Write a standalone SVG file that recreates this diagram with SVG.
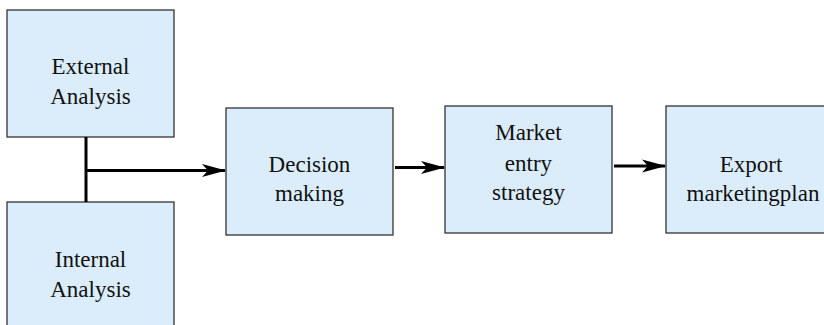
<svg xmlns="http://www.w3.org/2000/svg" width="824" height="325" viewBox="0 0 824 325">
  <style>
    .box { fill: #dbedfb; stroke: #333333; stroke-width: 1.3; }
    .wire { fill: none; stroke: #000000; stroke-width: 3; }
  </style>
  <defs>
    <marker id="head" markerUnits="userSpaceOnUse" markerWidth="24" markerHeight="14" refX="23" refY="7" orient="auto">
      <path d="M0,0.5 L24,7 L0,13.5 L6,7 Z" fill="#000000"/>
    </marker>
  </defs>

  <g id="external-analysis">
    <rect class="box" x="7" y="10" width="167" height="127"/>
    <text x="90.5" y="74" font-family="Liberation Serif" font-size="23" fill="#111111" text-anchor="middle">External</text>
    <text x="90.5" y="104" font-family="Liberation Serif" font-size="23" fill="#111111" text-anchor="middle">Analysis</text>
  </g>

  <g id="internal-analysis">
    <rect class="box" x="7" y="202" width="167" height="140"/>
    <text x="90.5" y="267" font-family="Liberation Serif" font-size="23" fill="#111111" text-anchor="middle">Internal</text>
    <text x="90.5" y="297" font-family="Liberation Serif" font-size="23" fill="#111111" text-anchor="middle">Analysis</text>
  </g>

  <g id="decision-making">
    <rect class="box" x="226" y="108" width="167" height="127"/>
    <text x="309.5" y="172" font-family="Liberation Serif" font-size="23" fill="#111111" text-anchor="middle">Decision</text>
    <text x="309.5" y="201" font-family="Liberation Serif" font-size="23" fill="#111111" text-anchor="middle">making</text>
  </g>

  <g id="market-entry-strategy">
    <rect class="box" x="445" y="106" width="167" height="127"/>
    <text x="528.5" y="140" font-family="Liberation Serif" font-size="23" fill="#111111" text-anchor="middle">Market</text>
    <text x="528.5" y="171" font-family="Liberation Serif" font-size="23" fill="#111111" text-anchor="middle">entry</text>
    <text x="528.5" y="200" font-family="Liberation Serif" font-size="23" fill="#111111" text-anchor="middle">strategy</text>
  </g>

  <g id="export-marketing-plan">
    <rect class="box" x="666" y="106" width="170" height="127"/>
    <text x="751" y="172" font-family="Liberation Serif" font-size="23" fill="#111111" text-anchor="middle">Export</text>
    <text x="753" y="201" font-family="Liberation Serif" font-size="23" fill="#111111" text-anchor="middle">marketingplan</text>
  </g>

  <g id="connectors">
    <path class="wire" d="M86,137 V202"/>
    <path class="wire" d="M86,170.5 H225" marker-end="url(#head)"/>
    <path class="wire" d="M395,167.5 H444" marker-end="url(#head)"/>
    <path class="wire" d="M614,166 H665" marker-end="url(#head)"/>
  </g>
</svg>
